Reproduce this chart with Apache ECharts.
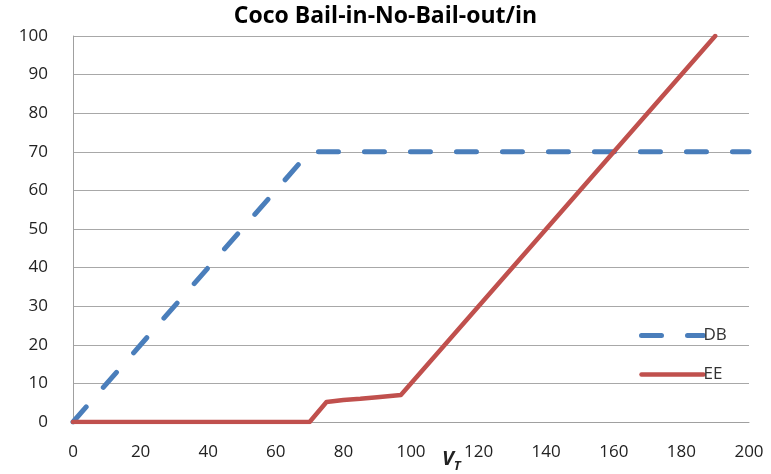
<!DOCTYPE html>
<html>
<head>
<meta charset="utf-8">
<script src="https://cdn.jsdelivr.net/npm/echarts@6/dist/echarts.min.js"></script>
<style>html,body{margin:0;padding:0;background:#fff;}#c{width:771px;height:474px;}</style>
</head>
<body>
<div id="c"></div>
<script>
var titleText = 'Coco Bail-in-No-Bail-out/in';
var xTicks = [0, 20, 40, 60, 80, 100, 120, 140, 160, 180, 200];
var yTicks = [0, 10, 20, 30, 40, 50, 60, 70, 80, 90, 100];
var dbX = [0, 70, 200];
var dbY = [0, 70, 70];
var eeX = [0, 70, 75, 80, 85, 90, 97, 190];
var eeY = [0, 0, 5.2, 5.7, 6, 6.4, 7, 100];

function pairs(xs, ys) { return xs.map(function (x, i) { return [x, ys[i]]; }); }

var chart = echarts.init(document.getElementById('c'));
chart.setOption({
  backgroundColor: '#fff',
  animation: false,
  title: {
    text: titleText, left: 'center', top: 0,
    textStyle: { fontFamily: 'Open Sans', fontWeight: 'bold', fontSize: 23, color: '#000' }
  },
  grid: { left: 73, right: 22, top: 36, bottom: 52 },
  legend: {
    orient: 'vertical', left: 634, top: 322, itemGap: 22,
    itemWidth: 62, itemHeight: 6,
    itemStyle: { opacity: 0 },
    textStyle: { fontFamily: 'Open Sans', fontSize: 17, color: '#333', padding: [0, 0, 0, -5] },
    data: [
      { name: 'DB', lineStyle: { width: 5, type: [20, 26], cap: 'round', color: '#4A7EBB' } },
      { name: 'EE', lineStyle: { width: 4.5, cap: 'round', color: '#C0504D' } }
    ]
  },
  xAxis: {
    type: 'value', min: 0, max: 200, interval: 20,
    axisLine: { show: true, lineStyle: { color: '#a0a0a0', width: 1 } },
    axisTick: { show: false },
    splitLine: { show: false },
    axisLabel: { fontFamily: 'Open Sans', fontSize: 17, color: '#222', margin: 22,
      formatter: function (v) { return xTicks.indexOf(v) >= 0 ? String(v) : ''; } }
  },
  yAxis: {
    type: 'value', min: 0, max: 100, interval: 10,
    axisLine: { show: true, lineStyle: { color: '#a0a0a0', width: 1 } },
    axisTick: { show: false },
    splitLine: { show: true, lineStyle: { color: '#a8a8a8', width: 1 } },
    axisLabel: { fontFamily: 'Open Sans', fontSize: 17, color: '#222', margin: 25, align: 'right',
      formatter: function (v) { return yTicks.indexOf(v) >= 0 ? String(v) : ''; } }
  },
  graphic: [{
    type: 'text', left: 442, top: 449,
    style: {
      text: '{v|V}{t|T}',
      rich: {
        v: { fontFamily: 'Open Sans', fontStyle: 'italic', fontWeight: 'bold', fontSize: 20, fill: '#222' },
        t: { fontFamily: 'Open Sans', fontStyle: 'italic', fontWeight: 'bold', fontSize: 13, fill: '#222', padding: [14, 0, 0, 0] }
      }
    }
  }],
  series: [
    {
      name: 'DB', type: 'line', symbol: 'none', z: 3,
      data: pairs(dbX, dbY),
      itemStyle: { color: '#4A7EBB' },
      lineStyle: { color: '#4A7EBB', width: 5, type: [20, 26], cap: 'round' }
    },
    {
      name: 'EE', type: 'line', symbol: 'none', z: 4,
      data: pairs(eeX, eeY),
      itemStyle: { color: '#C0504D' },
      lineStyle: { color: '#C0504D', width: 4.5, cap: 'round', join: 'round' }
    }
  ]
});
</script>
</body>
</html>
